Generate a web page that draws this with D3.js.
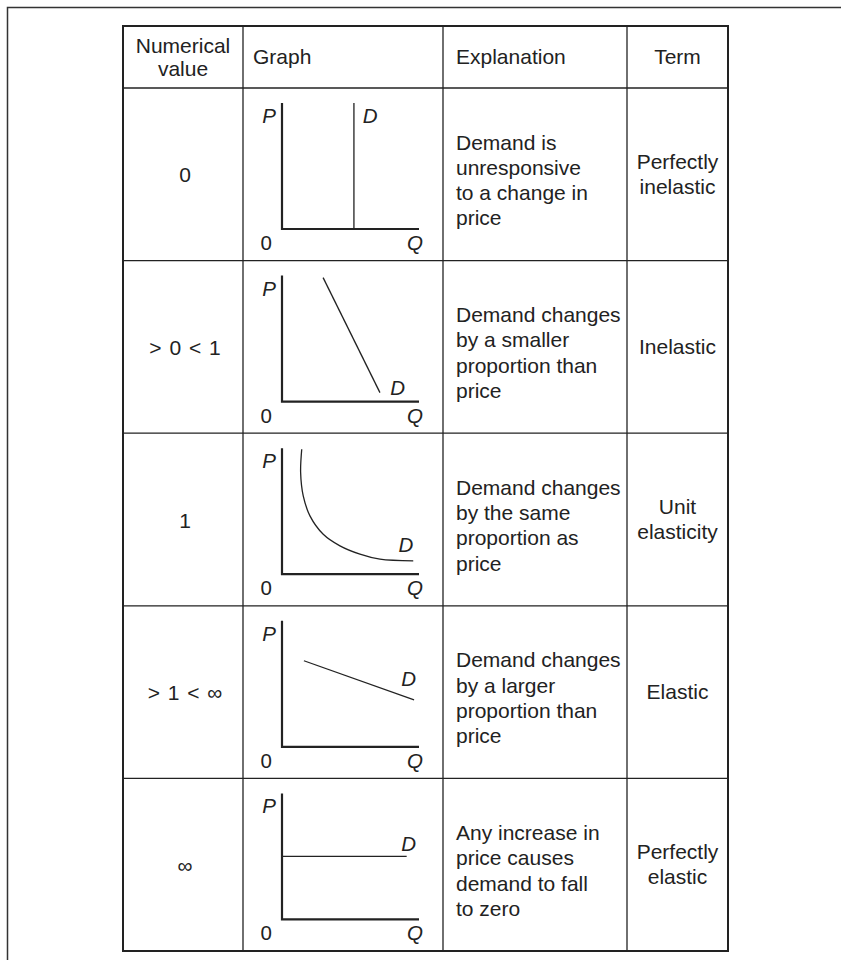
<!DOCTYPE html>
<html>
<head>
<meta charset="utf-8">
<script src="https://cdn.jsdelivr.net/npm/d3@7"></script>
<style>
  body { margin: 0; background: #fff; }
  svg { display: block; }
  text { font-family: "Liberation Sans", Arial, Helvetica, sans-serif; fill: #222; }
</style>
</head>
<body>
<svg width="841" height="960"></svg>
<script>
// table content
var headers = [["Numerical", "value"], ["Graph"], ["Explanation"], ["Term"]];
var values = ["0", "> 0 < 1", "1", "> 1 < \u221e", "\u221e"];
var explanations = [
  ["Demand is", "unresponsive", "to a change in", "price"],
  ["Demand changes", "by a smaller", "proportion than", "price"],
  ["Demand changes", "by the same", "proportion as", "price"],
  ["Demand changes", "by a larger", "proportion than", "price"],
  ["Any increase in", "price causes", "demand to fall", "to zero"]
];
var terms = [["Perfectly", "inelastic"], ["Inelastic"], ["Unit", "elasticity"], ["Elastic"], ["Perfectly", "elastic"]];

// demand curves, [Q, P] on a 0-100 scale
var demand = [
  [[52.5, 0], [52.5, 100]],
  [[30, 98.4], [71.5, 7.1]],
  [[14.4, 99.2], [13.6, 80.7], [15.5, 62.1], [20.4, 46.3], [30.1, 31.7], [42.3, 22.5], [56.9, 15.9], [71.5, 11.9], [95.8, 10.6]],
  [[16, 68.3], [96.4, 37.3]],
  [[0, 50], [91, 50]]
];
// where the "D" sits, same units
var dLabel = [[59, 84], [79, 5], [85, 18], [87, 48], [87, 54]];

var svg = d3.select("svg");
var colX = [123, 243, 443, 627, 728];
var headTop = 26, headBottom = 88, tableBottom = 951;
var rowY = d3.scaleLinear().domain([0, values.length]).range([headBottom, tableBottom]);
var rowH = rowY(1) - rowY(0);

// page frame
svg.append("path")
  .attr("d", "M7.5,960V7.5H841")
  .attr("fill", "none")
  .attr("stroke", "#333")
  .attr("stroke-width", 1.5);

// grid
var grid = svg.append("g").attr("stroke", "#222").attr("fill", "none");
grid.append("rect")
  .attr("x", colX[0]).attr("y", headTop)
  .attr("width", colX[4] - colX[0]).attr("height", tableBottom - headTop)
  .attr("stroke-width", 2);
d3.range(0, values.length).forEach(function (i) {
  grid.append("line")
    .attr("x1", colX[0]).attr("x2", colX[4])
    .attr("y1", rowY(i)).attr("y2", rowY(i))
    .attr("stroke-width", 1.3);
});
[1, 2, 3].forEach(function (c) {
  grid.append("line")
    .attr("x1", colX[c]).attr("x2", colX[c])
    .attr("y1", headTop).attr("y2", tableBottom)
    .attr("stroke-width", 1.3);
});

// header
var fs = 21;
var hcx = [(colX[0] + colX[1]) / 2, colX[1] + 10, colX[2] + 13, (colX[3] + colX[4]) / 2];
var hanchor = ["middle", "start", "start", "middle"];
headers.forEach(function (lines, c) {
  var mid = (headTop + headBottom) / 2;
  var first = mid + 7 - (lines.length - 1) * 11.5;
  lines.forEach(function (s, k) {
    svg.append("text")
      .attr("x", hcx[c]).attr("y", first + k * 23)
      .attr("text-anchor", hanchor[c])
      .attr("font-size", fs)
      .text(s);
  });
});

// rows
values.forEach(function (v, i) {
  var top = rowY(i), mid = top + rowH / 2;

  svg.append("text")
    .attr("x", hcx[0] + 2).attr("y", mid + 8)
    .attr("text-anchor", "middle")
    .attr("font-size", fs)
    .attr("word-spacing", 2)
    .text(v);

  explanations[i].forEach(function (s, k) {
    svg.append("text")
      .attr("x", colX[2] + 13).attr("y", top + 61.5 + k * 25.3)
      .attr("font-size", fs)
      .text(s);
  });

  var t = terms[i];
  var first = mid + 7 - (t.length - 1) * 12.5;
  t.forEach(function (s, k) {
    svg.append("text")
      .attr("x", hcx[3]).attr("y", first + k * 25)
      .attr("text-anchor", "middle")
      .attr("font-size", fs)
      .text(s);
  });

  // small graph
  var x = d3.scaleLinear().domain([0, 100]).range([282, 419]);
  var y = d3.scaleLinear().domain([0, 100]).range([top + 141, top + 15]);
  var g = svg.append("g");

  g.append("path")
    .attr("d", "M" + x(0) + "," + y(100) + "V" + y(0) + "H" + x(100))
    .attr("fill", "none")
    .attr("stroke", "#222")
    .attr("stroke-width", 2.2);

  var line = d3.line()
    .x(function (d) { return x(d[0]); })
    .y(function (d) { return y(d[1]); })
    .curve(d3.curveCatmullRom.alpha(0.5));

  g.append("path")
    .datum(demand[i])
    .attr("d", line)
    .attr("fill", "none")
    .attr("stroke", "#222")
    .attr("stroke-width", 1.3);

  g.append("text")
    .attr("x", 276).attr("y", top + 35)
    .attr("text-anchor", "end")
    .attr("font-size", 20.5).attr("font-style", "italic")
    .text("P");
  g.append("text")
    .attr("x", 272).attr("y", top + 162)
    .attr("text-anchor", "end")
    .attr("font-size", 20.5)
    .text("0");
  g.append("text")
    .attr("x", 423).attr("y", top + 162)
    .attr("text-anchor", "end")
    .attr("font-size", 20.5).attr("font-style", "italic")
    .text("Q");
  g.append("text")
    .attr("x", x(dLabel[i][0])).attr("y", y(dLabel[i][1]))
    .attr("font-size", 20.5).attr("font-style", "italic")
    .text("D");
});
</script>
</body>
</html>
